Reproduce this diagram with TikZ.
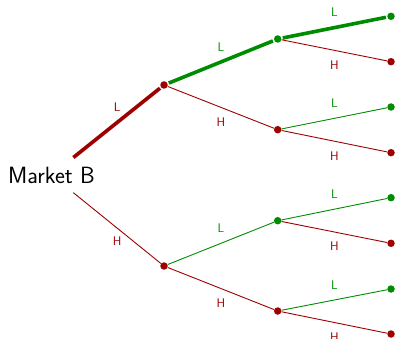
\documentclass[tikz,border=0pt]{standalone}
\definecolor{tred}{RGB}{158,0,0}
\definecolor{tgreen}{RGB}{0,140,0}
\tikzset{
  dotr/.style={circle, fill=tred, inner sep=0pt, minimum size=7.5pt},
  dotg/.style={circle, fill=tgreen, inner sep=0pt, minimum size=7.5pt},
  rootnode/.style={inner sep=0pt, font=\sffamily\fontsize{23.5}{28}\selectfont},
  thinedge/.style={line width=0.9pt},
  thickedge/.style={line width=3.6pt, shorten <=1.2pt, shorten >=1.2pt},
  rootedge/.style={shorten <=28pt},
  lab/.style={font=\sffamily\fontsize{12.5}{15}\selectfont, inner sep=0pt},
  labL/.style={lab, midway, yshift=15pt},
  labH/.style={lab, midway, yshift=-14.5pt}
}
\begin{document}
\begin{tikzpicture}[x=1pt,y=1pt]
\useasboundingbox (0,0) rectangle (396,-339);
\clip (0,0) rectangle (396,-339);
\node[rootnode] (root) at (51.5,-175) {Market B};
\node[dotr] (a) at (164,-85) {};
\node[dotr] (b) at (164,-266) {};
\node[dotg] (aa) at (277.7,-39) {};
\node[dotr] (ab) at (277.7,-129.7) {};
\node[dotg] (ba) at (277.7,-220.7) {};
\node[dotr] (bb) at (277.7,-311) {};
\node[dotg] (aaa) at (391,-16.3) {};
\node[dotr] (aab) at (391,-61.7) {};
\node[dotg] (aba) at (391,-107) {};
\node[dotr] (abb) at (391,-152.7) {};
\node[dotg] (baa) at (391,-197.7) {};
\node[dotr] (bab) at (391,-243.3) {};
\node[dotg] (bba) at (391,-289) {};
\node[dotr] (bbb) at (391,-334) {};
% level 1
\draw[thickedge, rootedge, tred] (root.center) -- node[lab, pos=0.6, yshift=15pt, text=tred] {L} (a);
\draw[thinedge, rootedge, tred] (root.center) -- node[lab, pos=0.6, yshift=-13.5pt, text=tred] {H} (b);
% level 2
\draw[thickedge, tgreen] (a) -- node[labL, text=tgreen] {L} (aa);
\draw[thinedge, tred] (a) -- node[labH, text=tred] {H} (ab);
\draw[thinedge, tgreen] (b) -- node[labL, text=tgreen] {L} (ba);
\draw[thinedge, tred] (b) -- node[labH, text=tred] {H} (bb);
% level 3
\draw[thickedge, tgreen] (aa) -- node[labL, text=tgreen] {L} (aaa);
\draw[thinedge, tred] (aa) -- node[labH, text=tred] {H} (aab);
\draw[thinedge, tgreen] (ab) -- node[labL, text=tgreen] {L} (aba);
\draw[thinedge, tred] (ab) -- node[labH, text=tred] {H} (abb);
\draw[thinedge, tgreen] (ba) -- node[labL, text=tgreen] {L} (baa);
\draw[thinedge, tred] (ba) -- node[labH, text=tred] {H} (bab);
\draw[thinedge, tgreen] (bb) -- node[labL, text=tgreen] {L} (bba);
\draw[thinedge, tred] (bb) -- node[labH, text=tred] {H} (bbb);
\end{tikzpicture}
\end{document}
